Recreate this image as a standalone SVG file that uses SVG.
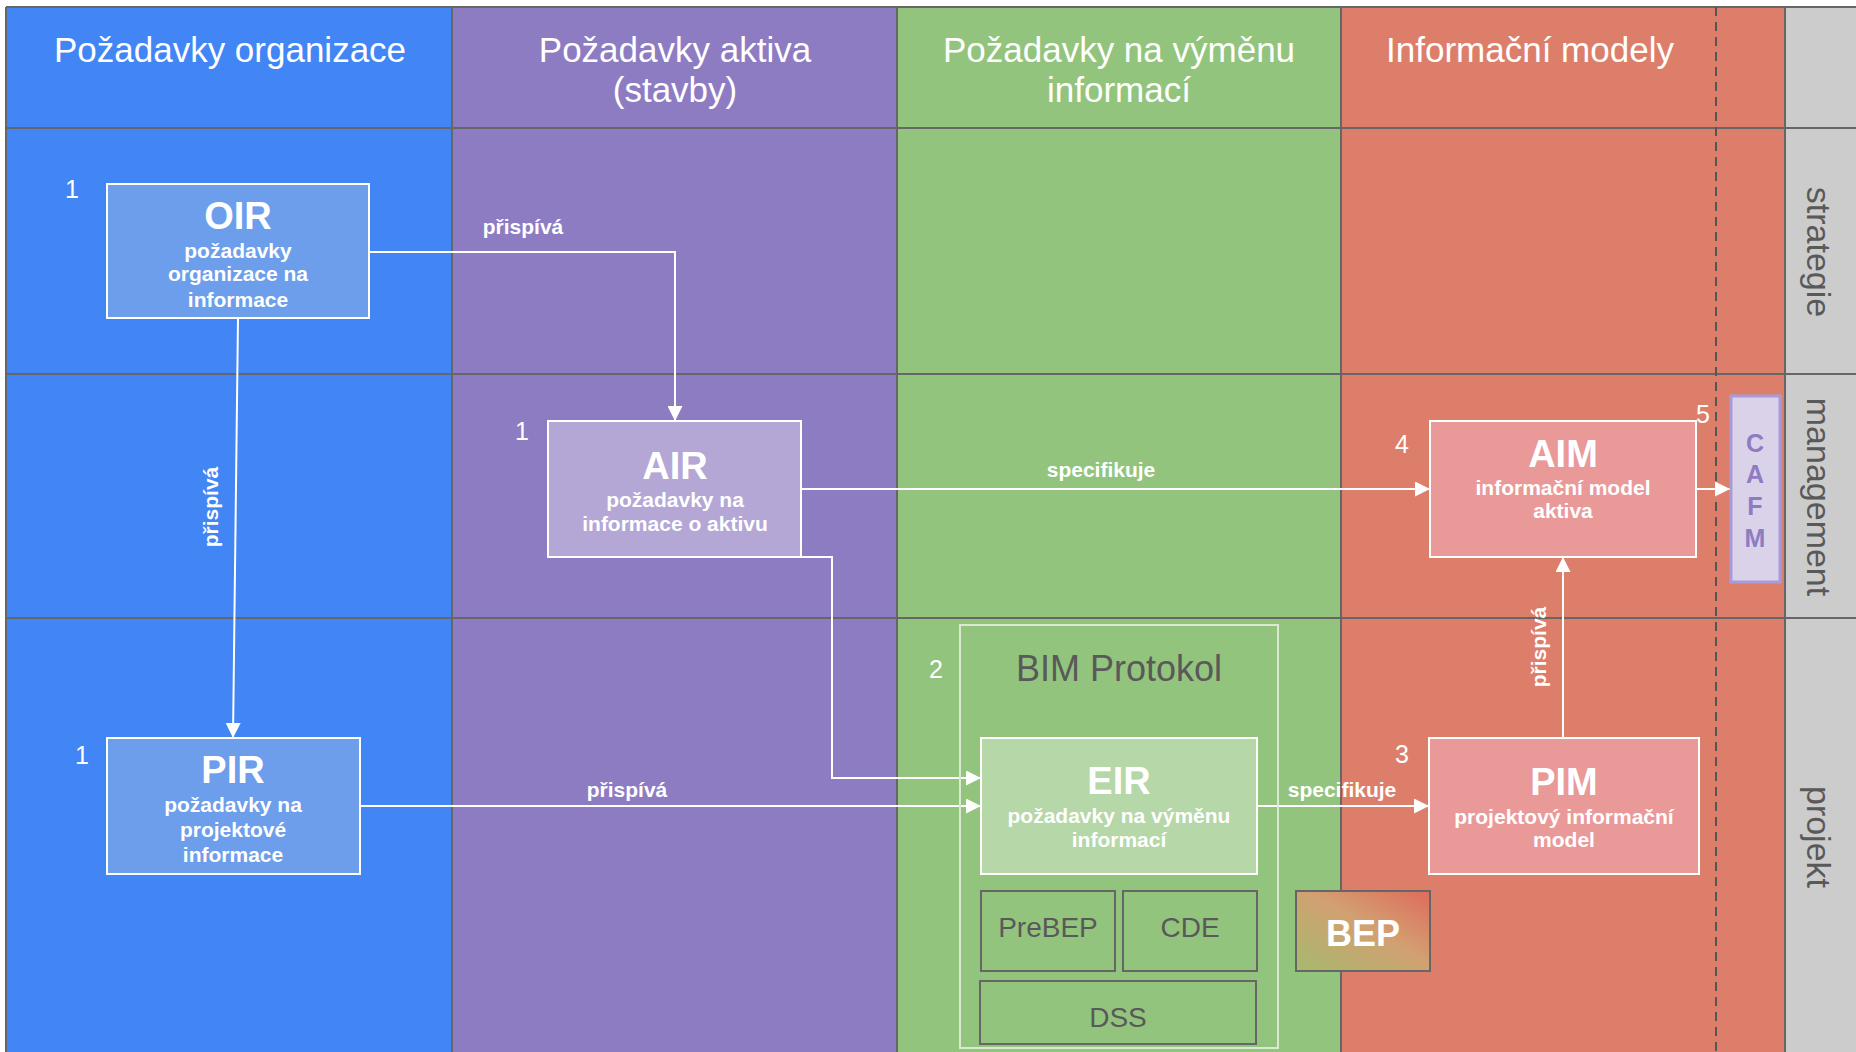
<svg xmlns="http://www.w3.org/2000/svg" width="1856" height="1052" viewBox="0 0 1856 1052">
<style>
.hdr{font-family:"Liberation Sans",Arial,sans-serif;font-size:35px;fill:#fff;text-anchor:middle}
.row{font-family:"Liberation Sans",Arial,sans-serif;font-size:34px;fill:#595959;text-anchor:middle}
.ttl{font-family:"Liberation Sans",Arial,sans-serif;font-size:38px;font-weight:bold;fill:#fff;text-anchor:middle}
.sub{font-family:"Liberation Sans",Arial,sans-serif;font-size:21px;font-weight:bold;fill:#fff;text-anchor:middle}
.lbl{font-family:"Liberation Sans",Arial,sans-serif;font-size:21px;font-weight:bold;fill:#fff;text-anchor:middle}
.num{font-family:"Liberation Sans",Arial,sans-serif;font-size:25px;fill:#fff;text-anchor:middle}
.gtx{font-family:"Liberation Sans",Arial,sans-serif;font-size:28px;fill:#595959;text-anchor:middle}
.box{stroke:#fff;stroke-width:2}
.gbox{fill:none;stroke:#666;stroke-width:2}
.grid{stroke:#666;stroke-width:2;fill:none}
.conn{fill:none;stroke:#fff;stroke-width:2}
</style>
<defs>
<marker id="arr" viewBox="0 0 10 10" refX="10" refY="5" markerWidth="15" markerHeight="15" markerUnits="userSpaceOnUse" orient="auto">
<path d="M0,0 L10,5 L0,10 z" fill="#fff"/>
</marker>
<linearGradient id="bepg" x1="0" y1="1" x2="1" y2="0">
<stop offset="0" stop-color="#a6b96e"/>
<stop offset="0.55" stop-color="#d2a071"/>
<stop offset="1" stop-color="#df6b5c"/>
</linearGradient>
</defs>
<rect x="0" y="0" width="1856" height="1052" fill="#fff"/>
<g id="lanes">
<rect x="6" y="7" width="446" height="1045" fill="#4285f4"/>
<rect x="452" y="7" width="445" height="1045" fill="#8e7cc3"/>
<rect x="897" y="7" width="444" height="1045" fill="#93c47d"/>
<rect x="1341" y="7" width="444" height="1045" fill="#dd7e6b"/>
<rect x="1785" y="7" width="71" height="1045" fill="#cccccc"/>
<path class="grid" d="M6,7 H1856 M6,128 H1856 M6,374 H1856 M6,618 H1856 M6,7 V1052 M452,7 V1052 M897,7 V1052 M1341,7 V1052 M1785,7 V1052"/>
<line x1="1716" y1="7" x2="1716" y2="1052" stroke="#555" stroke-width="2" stroke-dasharray="9,6"/>
<text class="hdr" x="230" y="62">Požadavky organizace</text>
<text class="hdr" x="675" y="62">Požadavky aktiva</text>
<text class="hdr" x="675" y="102">(stavby)</text>
<text class="hdr" x="1119" y="62">Požadavky na výměnu</text>
<text class="hdr" x="1119" y="102">informací</text>
<text class="hdr" x="1530" y="62">Informační modely</text>
<text class="row" transform="translate(1807,252) rotate(90)">strategie</text>
<text class="row" transform="translate(1807,497) rotate(90)">management</text>
<text class="row" transform="translate(1807,837) rotate(90)">projekt</text>
</g>
<g id="connectors">
<path class="conn" d="M369,252 H675 V421" marker-end="url(#arr)"/>
<path class="conn" d="M238,318 L233,738" marker-end="url(#arr)"/>
<path class="conn" d="M801,489 H1430" marker-end="url(#arr)"/>
<path class="conn" d="M801,557 H832 V778 H981" marker-end="url(#arr)"/>
<path class="conn" d="M360,806 H981" marker-end="url(#arr)"/>
<path class="conn" d="M1257,806 H1429" marker-end="url(#arr)"/>
<path class="conn" d="M1563,738 V557" marker-end="url(#arr)"/>
<path class="conn" d="M1696,489 H1730" marker-end="url(#arr)"/>
<text class="lbl" x="523" y="234">přispívá</text>
<text class="lbl" transform="translate(218,507) rotate(-90)">přispívá</text>
<text class="lbl" x="1101" y="477">specifikuje</text>
<text class="lbl" x="627" y="797">přispívá</text>
<text class="lbl" x="1342" y="797">specifikuje</text>
<text class="lbl" transform="translate(1546,647) rotate(-90)">přispívá</text>
</g>
<g id="OIR">
<rect class="box" x="107" y="184" width="262" height="134" fill="#6d9eeb"/>
<text class="ttl" x="238" y="229">OIR</text>
<text class="sub" x="238" y="258">požadavky</text>
<text class="sub" x="238" y="281">organizace na</text>
<text class="sub" x="238" y="307">informace</text>
<text class="num" x="72" y="198">1</text>
</g>
<g id="AIR">
<rect class="box" x="548" y="421" width="253" height="136" fill="#b4a7d6"/>
<text class="ttl" x="675" y="479">AIR</text>
<text class="sub" x="675" y="507">požadavky na</text>
<text class="sub" x="675" y="531">informace o aktivu</text>
<text class="num" x="522" y="440">1</text>
</g>
<g id="PIR">
<rect class="box" x="107" y="738" width="253" height="136" fill="#6d9eeb"/>
<text class="ttl" x="233" y="783">PIR</text>
<text class="sub" x="233" y="812">požadavky na</text>
<text class="sub" x="233" y="837">projektové</text>
<text class="sub" x="233" y="862">informace</text>
<text class="num" x="82" y="764">1</text>
</g>
<g id="BIMProtokol">
<rect x="960" y="625" width="318" height="423" fill="none" stroke="#d9ead3" stroke-width="2"/>
<text x="1119" y="681" font-family="Liberation Sans, Arial, sans-serif" font-size="36" fill="#595959" text-anchor="middle">BIM Protokol</text>
<text class="num" x="936" y="678">2</text>
</g>
<g id="EIR">
<rect class="box" x="981" y="738" width="276" height="136" fill="#b6d7a8"/>
<text class="ttl" x="1119" y="794">EIR</text>
<text class="sub" x="1119" y="823">požadavky na výměnu</text>
<text class="sub" x="1119" y="847">informací</text>
</g>
<g id="PreBEP">
<rect class="gbox" x="981" y="891" width="134" height="80"/>
<text class="gtx" x="1048" y="937">PreBEP</text>
</g>
<g id="CDE">
<rect class="gbox" x="1123" y="891" width="134" height="80"/>
<text class="gtx" x="1190" y="937">CDE</text>
</g>
<g id="DSS">
<rect class="gbox" x="980" y="981" width="276" height="63"/>
<text class="gtx" x="1118" y="1027">DSS</text>
</g>
<g id="BEP">
<rect x="1296" y="891" width="134" height="80" fill="url(#bepg)" stroke="#666" stroke-width="2"/>
<text x="1363" y="946" font-family="Liberation Sans, Arial, sans-serif" font-size="36" font-weight="bold" fill="#fff" text-anchor="middle">BEP</text>
</g>
<g id="PIM">
<rect class="box" x="1429" y="738" width="270" height="136" fill="#ea9999"/>
<text class="ttl" x="1564" y="795">PIM</text>
<text class="sub" x="1564" y="824">projektový informační</text>
<text class="sub" x="1564" y="847">model</text>
<text class="num" x="1402" y="763">3</text>
</g>
<g id="AIM">
<rect class="box" x="1430" y="421" width="266" height="136" fill="#ea9999"/>
<text class="ttl" x="1563" y="467">AIM</text>
<text class="sub" x="1563" y="495">informační model</text>
<text class="sub" x="1563" y="518">aktiva</text>
<text class="num" x="1402" y="453">4</text>
<text class="num" x="1703" y="423">5</text>
</g>
<g id="CAFM">
<rect x="1731" y="396" width="49" height="186" fill="#d9d2e9" stroke="#a99bd9" stroke-width="3"/>
<g font-family="Liberation Sans, Arial, sans-serif" font-size="25" font-weight="bold" fill="#8e7cc3" text-anchor="middle">
<text x="1755" y="452">C</text>
<text x="1755" y="483">A</text>
<text x="1755" y="515">F</text>
<text x="1755" y="547">M</text>
</g>
</g>
</svg>
